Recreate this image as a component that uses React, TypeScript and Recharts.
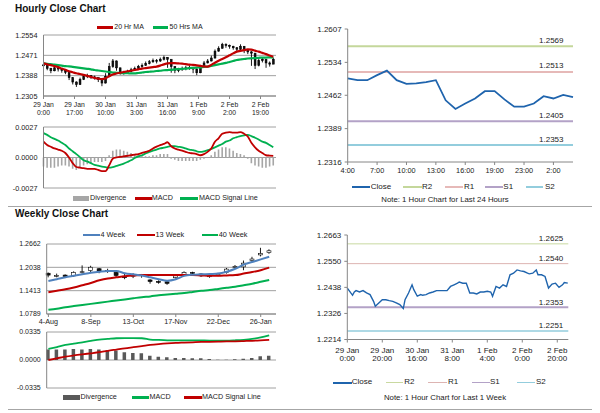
import React from "react";
import {
	ComposedChart,
	Line,
	Bar,
	XAxis,
	YAxis,
	CartesianGrid,
	ReferenceLine,
} from "recharts";

const FONT = "'Liberation Sans', Arial, sans-serif";
const AXIS = "#868686";
const GRID = "#a0a0a0";
const INK = "#222";

// ---- hourly close chart (2-hour steps, 29 Jan 0:00 onwards)
const hourlyClose = [
	1.2432, 1.2418, 1.2408, 1.242, 1.2415, 1.241, 1.2402, 1.238, 1.2362, 1.2352,
	1.2372, 1.2385, 1.2388, 1.2383, 1.238, 1.2372, 1.2358, 1.2385, 1.2425, 1.2448,
	1.242, 1.2402, 1.24, 1.2405, 1.2412, 1.2418, 1.2425, 1.243, 1.2438, 1.2445,
	1.245, 1.2448, 1.2455, 1.2462, 1.2455, 1.2425, 1.241, 1.2412, 1.2418, 1.242,
	1.2422, 1.2415, 1.24, 1.2425, 1.244, 1.2448, 1.246, 1.2488, 1.25, 1.2515,
	1.2512, 1.2508, 1.2502, 1.2496, 1.2508, 1.249, 1.2485, 1.248, 1.243, 1.245,
	1.2455, 1.244, 1.2435, 1.2455,
];
const hourlyHigh = [
	1.244, 1.243, 1.242, 1.2428, 1.2424, 1.2418, 1.2412, 1.2398, 1.2375, 1.2365,
	1.238, 1.2392, 1.2396, 1.239, 1.2388, 1.238, 1.2372, 1.2398, 1.244, 1.2456,
	1.245, 1.242, 1.2408, 1.2412, 1.242, 1.2425, 1.2432, 1.2438, 1.2446, 1.2452,
	1.2458, 1.2456, 1.2462, 1.247, 1.2464, 1.245, 1.2425, 1.242, 1.2425, 1.2428,
	1.243, 1.2424, 1.2418, 1.2432, 1.2448, 1.2456, 1.247, 1.2495, 1.2508, 1.2522,
	1.252, 1.2515, 1.251, 1.2505, 1.2516, 1.2508, 1.2494, 1.2488, 1.2475, 1.246,
	1.2462, 1.2452, 1.2446, 1.2462,
];
const hourlyLow = [
	1.2425, 1.241, 1.2398, 1.2406, 1.2405, 1.24, 1.2394, 1.237, 1.2352, 1.2342,
	1.235, 1.237, 1.2378, 1.2375, 1.2372, 1.2362, 1.2345, 1.2356, 1.2382, 1.242,
	1.2408, 1.2392, 1.2392, 1.2396, 1.2402, 1.2408, 1.2415, 1.242, 1.2428, 1.2434,
	1.244, 1.2438, 1.2444, 1.245, 1.242, 1.24, 1.2398, 1.2402, 1.2408, 1.241,
	1.2412, 1.2398, 1.239, 1.2398, 1.2422, 1.2438, 1.2446, 1.2458, 1.2486, 1.2498,
	1.2502, 1.2498, 1.2494, 1.2488, 1.2492, 1.248, 1.2476, 1.2428, 1.2415, 1.2426,
	1.2442, 1.242, 1.2425, 1.2436,
];
const hourlyMA20 = [
	1.2438, 1.2434, 1.2431, 1.2427, 1.2423, 1.2417, 1.2412, 1.2406, 1.2402, 1.2398,
	1.2395, 1.2391, 1.2387, 1.2383, 1.2379, 1.2376, 1.2374, 1.2377, 1.2386, 1.2393,
	1.2397, 1.24, 1.2403, 1.2406, 1.2408, 1.2411, 1.2414, 1.2417, 1.2419, 1.2421,
	1.2423, 1.2425, 1.2429, 1.2434, 1.2438, 1.2439, 1.2439, 1.2438, 1.2437, 1.2435,
	1.2433, 1.2432, 1.243, 1.2428, 1.2426, 1.2425, 1.2432, 1.2441, 1.2449, 1.2456,
	1.2463, 1.2471, 1.2479, 1.2486, 1.2489, 1.2492, 1.2495, 1.2494, 1.249, 1.2486,
	1.2481, 1.2476, 1.247, 1.2465,
];
const hourlyMA50 = [
	1.2438, 1.2436, 1.2435, 1.2433, 1.2431, 1.2429, 1.2427, 1.2426, 1.2424, 1.2422,
	1.242, 1.2418, 1.2416, 1.2414, 1.2411, 1.2409, 1.2407, 1.2405, 1.2403, 1.2401,
	1.24, 1.2399, 1.2398, 1.2398, 1.2397, 1.2397, 1.2399, 1.2401, 1.2403, 1.2404,
	1.2405, 1.2407, 1.2408, 1.241, 1.2411, 1.2412, 1.2414, 1.2415, 1.2416, 1.2417,
	1.2419, 1.242, 1.2421, 1.2422, 1.2424, 1.2425, 1.2428, 1.2431, 1.2434, 1.2437,
	1.244, 1.2444, 1.2448, 1.2452, 1.2454, 1.2456, 1.2458, 1.2459, 1.246, 1.2461,
	1.2462, 1.2462, 1.2463, 1.2463,
];
const hourlyMACD = [
	0.0014, 0.0011, 0.00095, 0.0008, 0.0007, 0.0006, 0.0004, 0.0, -0.0005, -0.00084,
	-0.0009, -0.00095, -0.001, -0.001, -0.001, -0.0011, -0.0012, -0.0012, -0.0007, -0.0001,
	0.0, 0.00006, 0.0001, 0.00015, 0.0002, 0.00025, 0.0003, 0.0004, 0.0005, 0.0006,
	0.0008, 0.00096, 0.0011, 0.0012, 0.00135, 0.001, 0.0008, 0.0007, 0.0006, 0.0005,
	0.0004, 0.00036, 0.0003, 0.0002, 0.0003, 0.0005, 0.0008, 0.0014, 0.0017, 0.0021,
	0.0022, 0.00225, 0.0022, 0.0022, 0.00225, 0.0021, 0.00186, 0.0013, 0.0009, 0.0006,
	0.0004, 0.0002, 0.00017, 0.00015,
];
const hourlySignal = [
	0.00216, 0.002, 0.0018, 0.00165, 0.0015, 0.0013, 0.0011, 0.0008, 0.00055, 0.0003,
	0.00003, -0.00024, -0.00035, -0.0005, -0.00065, -0.00072, -0.0008, -0.00086, -0.0009, -0.00085,
	-0.00075, -0.00065, -0.00054, -0.0004, -0.00025, -0.00005, 0.0001, 0.0002, 0.00035, 0.0005,
	0.0006, 0.0007, 0.0008, 0.00087, 0.00095, 0.001, 0.001, 0.00095, 0.0009, 0.0008,
	0.0007, 0.00065, 0.00055, 0.0005, 0.00055, 0.00065, 0.00075, 0.0009, 0.00105, 0.0012,
	0.0014, 0.0015, 0.0017, 0.0018, 0.0019, 0.00195, 0.002, 0.0019, 0.00175, 0.0016,
	0.0014, 0.0013, 0.0011, 0.0009,
];
const hourlyDivergence = [
	-0.0008, -0.0009, -0.0009, -0.0009, -0.0008, -0.0007, -0.0007, -0.0008, -0.001, -0.0011,
	-0.0009, -0.0007, -0.0006, -0.0005, -0.0004, -0.0004, -0.0004, -0.0003, 0.0002, 0.0006,
	0.0007, 0.0007, 0.0006, 0.0005, 0.0004, 0.0003, 0.0002, 0.0002, 0.0001, 0.0001,
	0.0002, 0.0002, 0.0003, 0.0003, 0.0003, -0.0001, -0.0002, -0.0003, -0.0003, -0.0003,
	-0.0003, -0.0003, -0.0003, -0.0002, -0.0001, 0.0, 0.0002, 0.0005, 0.0007, 0.0009,
	0.0009, 0.0008, 0.0006, 0.0004, 0.0003, 0.0002, -0.0001, -0.0005, -0.0007, -0.0008,
	-0.0009, -0.0009, -0.0008, -0.0007,
];
const hourlyTickHours = [0, 17, 34, 51, 68, 85, 102, 119];
const hourlyTickDays = ["29 Jan", "29 Jan", "30 Jan", "31 Jan", "31 Jan", "1 Feb", "2 Feb", "2 Feb"];
const hourlyTickTimes = ["0:00", "17:00", "10:00", "3:00", "16:00", "9:00", "2:00", "19:00"];
const hourlyPriceTicks = [1.2305, 1.2388, 1.2471, 1.2554];
const hourlyMacdTicks = [-0.0027, 0, 0.0027];

// ---- last 24 hours
const dayLabels = [
	"4:00", "5:00", "6:00", "7:00", "8:00", "9:00", "10:00", "11:00", "12:00", "13:00",
	"14:00", "15:00", "16:00", "17:00", "18:00", "19:00", "21:00", "22:00", "23:00", "0:00",
	"1:00", "2:00", "3:00", "4:00",
];
const dayClose = [
	1.2499, 1.2495, 1.2495, 1.2506, 1.2516, 1.2495, 1.2487, 1.2488, 1.2491, 1.2495,
	1.2451, 1.2432, 1.2444, 1.2455, 1.2471, 1.2471, 1.2453, 1.2437, 1.2437, 1.2444,
	1.246, 1.2455, 1.2463, 1.2458,
];
const dayTickIdx = [0, 3, 6, 9, 12, 15, 18, 21];
const dayPriceTicks = [1.2316, 1.2389, 1.2462, 1.2534, 1.2607];
const dayLevels = [
	{ name: "R2", value: 1.2569, color: "#c4d79b" },
	{ name: "R1", value: 1.2513, color: "#e6b9b8" },
	{ name: "S1", value: 1.2405, color: "#b3a2c7" },
	{ name: "S2", value: 1.2353, color: "#93cddd" },
];

// ---- weekly close chart (4-Aug .. 2-Feb)
const weeklyOpen = [
	1.188, 1.181, 1.183, 1.181, 1.19, 1.195, 1.2, 1.193, 1.19, 1.18,
	1.18, 1.184, 1.17, 1.166, 1.165, 1.176, 1.183, 1.19, 1.186, 1.18,
	1.183, 1.19, 1.204, 1.205, 1.222, 1.237, 1.243,
];
const weeklyClose = [
	1.183, 1.182, 1.179, 1.19, 1.192, 1.204, 1.194, 1.195, 1.182, 1.176,
	1.183, 1.182, 1.166, 1.164, 1.161, 1.181, 1.19, 1.188, 1.181, 1.181,
	1.186, 1.199, 1.206, 1.215, 1.226, 1.241, 1.248,
];
const weeklyHigh = [
	1.19, 1.187, 1.185, 1.193, 1.209, 1.208, 1.202, 1.2, 1.192, 1.186,
	1.188, 1.186, 1.172, 1.169, 1.167, 1.184, 1.193, 1.192, 1.188, 1.184,
	1.189, 1.202, 1.21, 1.222, 1.232, 1.256, 1.252,
];
const weeklyLow = [
	1.177, 1.177, 1.175, 1.178, 1.187, 1.19, 1.188, 1.189, 1.178, 1.172,
	1.175, 1.176, 1.16, 1.16, 1.157, 1.174, 1.181, 1.184, 1.178, 1.176,
	1.18, 1.187, 1.2, 1.196, 1.218, 1.233, 1.24,
];
const weeklyMA4 = [
	1.167, 1.172, 1.177, 1.181, 1.185, 1.189, 1.192, 1.194, 1.194, 1.188,
	1.185, 1.182, 1.177, 1.172, 1.168, 1.172, 1.181, 1.184, 1.185, 1.186,
	1.187, 1.192, 1.2, 1.211, 1.218, 1.225, 1.232,
];
const weeklyMA13 = [
	1.137, 1.141, 1.145, 1.15, 1.156, 1.162, 1.169, 1.174, 1.177, 1.18,
	1.182, 1.183, 1.183, 1.183, 1.183, 1.183, 1.183, 1.183, 1.182, 1.181,
	1.181, 1.182, 1.183, 1.187, 1.191, 1.196, 1.203,
];
const weeklyMA40 = [
	1.09, 1.093, 1.097, 1.1, 1.103, 1.106, 1.109, 1.112, 1.115, 1.118,
	1.121, 1.124, 1.126, 1.129, 1.131, 1.133, 1.135, 1.138, 1.141, 1.143,
	1.146, 1.149, 1.152, 1.156, 1.16, 1.165, 1.17,
];
const weeklyMACD = [
	0.0133, 0.0155, 0.018, 0.0195, 0.0212, 0.0228, 0.0244, 0.0252, 0.026, 0.0262,
	0.0262, 0.026, 0.0245, 0.024, 0.0236, 0.0234, 0.0236, 0.0236, 0.0234, 0.0232,
	0.0232, 0.0232, 0.0236, 0.0242, 0.0252, 0.027, 0.0294,
];
const weeklySignal = [
	0.0, 0.002, 0.004, 0.0055, 0.0068, 0.008, 0.0093, 0.011, 0.0125, 0.014,
	0.0153, 0.0166, 0.018, 0.019, 0.0198, 0.0204, 0.0208, 0.0212, 0.0216, 0.0218,
	0.022, 0.0222, 0.0224, 0.0227, 0.023, 0.0235, 0.0242,
];
const weeklyDivergence = [
	0.0125, 0.0125, 0.0125, 0.0133, 0.0125, 0.0133, 0.0125, 0.012, 0.0113, 0.0093,
	0.0085, 0.008, 0.0052, 0.004, 0.0032, 0.0024, 0.0024, 0.002, 0.002, 0.0012,
	0.0004, 0.0004, 0.0008, 0.0016, 0.0024, 0.0044, 0.0052,
];
const weeklyTickIdx = [0, 5, 10, 15, 20, 25];
const weeklyTickLabels = ["4-Aug", "8-Sep", "13-Oct", "17-Nov", "22-Dec", "26-Jan"];
const weeklyPriceTicks = [1.0789, 1.1413, 1.2038, 1.2662];
const weeklyMacdTicks = [-0.0335, 0, 0.0335];

// ---- last week, hourly
const weekHourIdx = [
	0, 2, 3, 4, 5, 7, 9, 11, 13, 15, 16, 18, 20, 22, 24, 26, 28, 30, 32, 33,
	35, 37, 38, 40, 42, 43, 45, 47, 49, 51, 53, 57, 59, 61, 63, 64, 66, 68, 70, 72,
	74, 76, 78, 80, 82, 83, 85, 87, 89, 91, 93, 95, 97, 99, 101, 103, 104, 106, 108, 109,
	111, 113, 115, 117, 119, 121, 123, 124, 126,
];
const weekHourClose = [
	1.2435, 1.2414, 1.2404, 1.2418, 1.2424, 1.2418, 1.2424, 1.2414, 1.2407, 1.2378,
	1.2357, 1.2371, 1.2385, 1.2385, 1.2381, 1.2378, 1.2371, 1.2364, 1.2347, 1.2385,
	1.2414, 1.2449, 1.2428, 1.24, 1.2407, 1.2404, 1.2407, 1.2414, 1.2418, 1.2424,
	1.2424, 1.2424, 1.2442, 1.2449, 1.2456, 1.2461, 1.2456, 1.2456, 1.2414, 1.2414,
	1.241, 1.2418, 1.2418, 1.2421, 1.2418, 1.24, 1.2442, 1.2435, 1.2449, 1.2442,
	1.2492, 1.2499, 1.2513, 1.2509, 1.2506, 1.2499, 1.2496, 1.2499, 1.2513, 1.2492,
	1.2492, 1.2485, 1.2435, 1.2452, 1.2456, 1.2438, 1.2449, 1.2459, 1.2456,
];
const weekTickIdx = [0, 20, 40, 60, 80, 100, 120];
const weekTickDays = ["29 Jan", "29 Jan", "30 Jan", "31 Jan", "1 Feb", "2 Feb", "2 Feb"];
const weekTickTimes = ["0:00", "20:00", "16:00", "8:00", "4:00", "0:00", "20:00"];
const weekPriceTicks = [1.2214, 1.2326, 1.2438, 1.255, 1.2663];
const weekLevels = [
	{ name: "R2", value: 1.2625, color: "#c9d9a0", width: 1 },
	{ name: "R1", value: 1.254, color: "#ddb4b2", width: 1 },
	{ name: "S1", value: 1.2353, color: "#b3a2c7", width: 2 },
	{ name: "S2", value: 1.2251, color: "#93cddd", width: 1.5 },
];

const hourlyData = hourlyClose.map((c, i) => ({
	h: i * 2,
	open: i ? hourlyClose[i - 1] : c,
	close: c,
	high: hourlyHigh[i],
	low: hourlyLow[i],
	range: [hourlyLow[i], hourlyHigh[i]],
	ma20: hourlyMA20[i],
	ma50: hourlyMA50[i],
	macd: hourlyMACD[i],
	signal: hourlySignal[i],
	div: hourlyDivergence[i],
}));

const dayData = dayClose.map((c, i) => ({ i, close: c }));

const weeklyData = weeklyClose.map((c, i) => ({
	w: i,
	open: weeklyOpen[i],
	close: c,
	high: weeklyHigh[i],
	low: weeklyLow[i],
	range: [weeklyLow[i], weeklyHigh[i]],
	ma4: weeklyMA4[i],
	ma13: weeklyMA13[i],
	ma40: weeklyMA40[i],
	macd: weeklyMACD[i],
	signal: weeklySignal[i],
	div: weeklyDivergence[i],
}));

const weekData = weekHourClose.map((c, i) => ({ i: weekHourIdx[i], close: c }));

const fmt4 = (v: number) => v.toFixed(4);

function Candle(props: any) {
	const { x, y, width, height, payload, hollow } = props;
	const top = Math.min(y, y + height);
	const h = Math.abs(height);
	const span = payload.high - payload.low || 1e-9;
	const py = (v: number) => top + ((payload.high - v) / span) * h;
	const b1 = py(Math.max(payload.open, payload.close));
	const b2 = py(Math.min(payload.open, payload.close));
	const cx = x + width / 2;
	const up = payload.close > payload.open;
	return (
		<g>
			<line x1={cx} x2={cx} y1={top} y2={top + h} stroke="#000" strokeWidth={0.9} />
			<rect
				x={x}
				y={b1}
				width={width}
				height={Math.max(b2 - b1, 0.9)}
				fill={hollow && up ? "#fff" : "#111"}
				stroke="#000"
				strokeWidth={0.6}
			/>
		</g>
	);
}

function TwoLineTick(props: any) {
	const { x, y, payload, ticks, days, times, fs, d1, d2 } = props;
	const k = ticks.indexOf(payload.value);
	if (k < 0) return <g />;
	return (
		<text x={x} y={y} textAnchor="middle" fontSize={fs} fill={INK} fontFamily={FONT}>
			<tspan x={x} y={y + d1}>{days[k]}</tspan>
			<tspan x={x} y={y + d2}>{times[k]}</tspan>
		</text>
	);
}

function LevelLabel(props: any, text: string, inset: number, lift: number) {
	const vb = props.viewBox || {};
	return (
		<text
			x={vb.x + vb.width - inset}
			y={vb.y - lift}
			textAnchor="end"
			fontSize={8}
			fill={INK}
			fontFamily={FONT}
		>
			{text}
		</text>
	);
}

type Item = { x1: number; x2: number; color: string; thick: number; label: string; tx: number };

function Legend({ y, fs, items }: { y: number; fs: number; items: Item[] }) {
	return (
		<>
			{items.map((it) => (
				<React.Fragment key={it.label}>
					<div
						style={{
							position: "absolute",
							left: it.x1,
							top: y - it.thick / 2,
							width: it.x2 - it.x1,
							height: it.thick,
							background: it.color,
						}}
					/>
					<div
						style={{
							position: "absolute",
							left: it.tx,
							top: y - fs / 2 - 0.5,
							fontSize: fs,
							lineHeight: `${fs}px`,
							color: INK,
							whiteSpace: "nowrap",
						}}
					>
						{it.label}
					</div>
				</React.Fragment>
			))}
		</>
	);
}

function Note({ y, text }: { y: number; text: string }) {
	return (
		<div
			style={{
				position: "absolute",
				left: 345,
				width: 200,
				top: y - 4.5,
				textAlign: "center",
				fontSize: 7.8,
				lineHeight: "8px",
				color: INK,
				whiteSpace: "nowrap",
			}}
		>
			{text}
		</div>
	);
}

const titleStyle: React.CSSProperties = {
	position: "absolute",
	left: 15,
	fontSize: 10,
	lineHeight: "10px",
	fontWeight: "bold",
	color: "#111",
	whiteSpace: "nowrap",
};

const sepStyle: React.CSSProperties = {
	position: "absolute",
	left: 8,
	width: 584,
	height: 1,
	background: "#a6a6a6",
};

const hourlyCandle = (p: any) => <Candle {...p} hollow={false} />;
const weeklyCandle = (p: any) => <Candle {...p} hollow />;

export default function App() {
	return (
		<div
			style={{
				position: "absolute",
				left: 0,
				top: 0,
				width: 600,
				height: 413,
				background: "#fff",
				fontFamily: FONT,
				overflow: "hidden",
			}}
		>
			<div style={{ ...titleStyle, top: 3.5 }}>Hourly Close Chart</div>
			<div style={{ ...titleStyle, top: 209 }}>Weekly Close Chart</div>
			<div style={{ ...sepStyle, top: 206 }} />
			<div style={{ ...sepStyle, top: 409 }} />

			{/* hourly candles with moving averages */}
			<Legend
				y={27.3}
				fs={7}
				items={[
					{ x1: 96.7, x2: 113.3, color: "#c00000", thick: 2.5, label: "20 Hr MA", tx: 114.3 },
					{ x1: 153.3, x2: 168.3, color: "#00b050", thick: 2.5, label: "50 Hrs MA", tx: 169.5 },
				]}
			/>
			<div style={{ position: "absolute", left: 0, top: 30 }}>
				<ComposedChart width={280} height={91} data={hourlyData} margin={{ top: 5, right: 4, left: 3.5, bottom: 0 }}>
					<CartesianGrid vertical={false} stroke={GRID} />
					<XAxis
						type="number"
						dataKey="h"
						domain={[0, 127.5]}
						ticks={hourlyTickHours}
						interval={0}
						height={25}
						tickSize={3}
						tickMargin={0}
						stroke={AXIS}
						tick={(p: any) => (
							<TwoLineTick {...p} ticks={hourlyTickHours} days={hourlyTickDays} times={hourlyTickTimes} fs={6.8} d1={7.5} d2={16} />
						)}
					/>
					<YAxis
						width={40}
						domain={[1.2305, 1.2554]}
						ticks={hourlyPriceTicks}
						interval={0}
						allowDataOverflow
						tickLine={false}
						tickSize={4}
						tickMargin={2}
						stroke={AXIS}
						tickFormatter={fmt4}
						tick={{ fontSize: 7.3, fill: INK, fontFamily: FONT }}
					/>
					<Bar dataKey="range" barSize={1.8} shape={hourlyCandle} isAnimationActive={false} />
					<Line type="monotone" dataKey="ma50" stroke="#00b050" strokeWidth={2.2} dot={false} activeDot={false} isAnimationActive={false} />
					<Line type="monotone" dataKey="ma20" stroke="#c00000" strokeWidth={2.2} dot={false} activeDot={false} isAnimationActive={false} />
				</ComposedChart>
			</div>

			{/* hourly MACD */}
			<div style={{ position: "absolute", left: 0, top: 122 }}>
				<ComposedChart width={280} height={72} data={hourlyData} margin={{ top: 5, right: 4, left: 3.5, bottom: 6 }}>
					<CartesianGrid vertical={false} stroke={GRID} />
					<XAxis type="number" dataKey="h" domain={[0, 127.5]} hide />
					<YAxis
						width={40}
						domain={[-0.0027, 0.0027]}
						ticks={hourlyMacdTicks}
						interval={0}
						allowDataOverflow
						tickLine={false}
						tickSize={4}
						tickMargin={2}
						stroke={AXIS}
						tickFormatter={fmt4}
						tick={{ fontSize: 7.3, fill: INK, fontFamily: FONT }}
					/>
					<Bar dataKey="div" fill="#a6a6a6" barSize={1.6} isAnimationActive={false} />
					<Line type="monotone" dataKey="signal" stroke="#00b050" strokeWidth={1.8} dot={false} activeDot={false} isAnimationActive={false} />
					<Line type="monotone" dataKey="macd" stroke="#c00000" strokeWidth={1.8} dot={false} activeDot={false} isAnimationActive={false} />
				</ComposedChart>
			</div>
			<Legend
				y={198.3}
				fs={7.2}
				items={[
					{ x1: 72.7, x2: 89.3, color: "#a6a6a6", thick: 5, label: "Divergence", tx: 90 },
					{ x1: 135, x2: 151.7, color: "#c00000", thick: 2.5, label: "MACD", tx: 151.7 },
					{ x1: 180, x2: 198, color: "#00b050", thick: 2.5, label: "MACD Signal Line", tx: 199 },
				]}
			/>

			{/* last 24 hours */}
			<div style={{ position: "absolute", left: 300, top: 24 }}>
				<ComposedChart width={280} height={158} data={dayData} margin={{ top: 5, right: 7, left: 7.7, bottom: 0 }}>
					<XAxis
						type="number"
						dataKey="i"
						domain={[0, 23]}
						ticks={dayTickIdx}
						interval={0}
						height={20}
						tickSize={3}
						tickMargin={3}
						stroke={AXIS}
						tickFormatter={(v: number) => dayLabels[v]}
						tick={{ fontSize: 7.3, fill: INK, fontFamily: FONT }}
					/>
					<YAxis
						width={40}
						domain={[1.2316, 1.2607]}
						ticks={dayPriceTicks}
						interval={0}
						allowDataOverflow
						tickSize={3}
						tickMargin={3}
						stroke={AXIS}
						tickFormatter={fmt4}
						tick={{ fontSize: 8, fill: INK, fontFamily: FONT }}
					/>
					{dayLevels.map((lv) => (
						<ReferenceLine
							key={lv.name}
							y={lv.value}
							stroke={lv.color}
							strokeWidth={2}
							label={(p: any) => LevelLabel(p, fmt4(lv.value), 9.5, 3.5)}
						/>
					))}
					<Line type="linear" dataKey="close" stroke="#1f64ad" strokeWidth={1.8} dot={false} activeDot={false} isAnimationActive={false} />
				</ComposedChart>
			</div>
			<Legend
				y={187}
				fs={8}
				items={[
					{ x1: 351.7, x2: 370, color: "#1f64ad", thick: 2, label: "Close", tx: 370.7 },
					{ x1: 403.3, x2: 421.7, color: "#c4d79b", thick: 2, label: "R2", tx: 422 },
					{ x1: 445, x2: 463.3, color: "#e6b9b8", thick: 2, label: "R1", tx: 464 },
					{ x1: 485, x2: 503.3, color: "#b3a2c7", thick: 2, label: "S1", tx: 503.3 },
					{ x1: 526, x2: 543, color: "#93cddd", thick: 2, label: "S2", tx: 545 },
				]}
			/>
			<Note y={200} text="Note: 1 Hour Chart for Last 24 Hours" />

			{/* weekly candles with moving averages */}
			<Legend
				y={235}
				fs={7.3}
				items={[
					{ x1: 83.3, x2: 100, color: "#4f81bd", thick: 2.5, label: "4 Week", tx: 100.5 },
					{ x1: 136.7, x2: 155, color: "#c00000", thick: 2.5, label: "13 Week", tx: 155.5 },
					{ x1: 201.7, x2: 218.3, color: "#00b050", thick: 2.5, label: "40 Week", tx: 218.8 },
				]}
			/>
			<div style={{ position: "absolute", left: 0, top: 239 }}>
				<ComposedChart width={280} height={91} data={weeklyData} margin={{ top: 5, right: 4, left: 6.7, bottom: 0 }}>
					<CartesianGrid vertical={false} stroke={GRID} />
					<XAxis
						type="number"
						dataKey="w"
						domain={[-0.2, 26.8]}
						ticks={weeklyTickIdx}
						interval={0}
						height={16}
						tickSize={3}
						tickMargin={2}
						stroke={AXIS}
						tickFormatter={(v: number) => weeklyTickLabels[weeklyTickIdx.indexOf(v)]}
						tick={{ fontSize: 7.2, fill: INK, fontFamily: FONT }}
					/>
					<YAxis
						width={40}
						domain={[1.0789, 1.2662]}
						ticks={weeklyPriceTicks}
						interval={0}
						allowDataOverflow
						tickLine={false}
						tickSize={4}
						tickMargin={2}
						stroke={AXIS}
						tickFormatter={fmt4}
						tick={{ fontSize: 7, fill: INK, fontFamily: FONT }}
					/>
					<Line type="monotone" dataKey="ma40" stroke="#00b050" strokeWidth={2} dot={false} activeDot={false} isAnimationActive={false} />
					<Line type="monotone" dataKey="ma13" stroke="#c00000" strokeWidth={2} dot={false} activeDot={false} isAnimationActive={false} />
					<Line type="monotone" dataKey="ma4" stroke="#4f81bd" strokeWidth={2} dot={false} activeDot={false} isAnimationActive={false} />
					<Bar dataKey="range" barSize={4} shape={weeklyCandle} isAnimationActive={false} />
				</ComposedChart>
			</div>

			{/* weekly MACD */}
			<div style={{ position: "absolute", left: 0, top: 327 }}>
				<ComposedChart width={280} height={67} data={weeklyData} margin={{ top: 5, right: 4, left: 6.7, bottom: 6 }}>
					<CartesianGrid vertical={false} stroke={GRID} />
					<XAxis type="number" dataKey="w" domain={[-0.2, 26.8]} hide />
					<YAxis
						width={40}
						domain={[-0.0335, 0.0335]}
						ticks={weeklyMacdTicks}
						interval={0}
						allowDataOverflow
						tickLine={false}
						tickSize={4}
						tickMargin={2}
						stroke={AXIS}
						tickFormatter={fmt4}
						tick={{ fontSize: 7, fill: INK, fontFamily: FONT }}
					/>
					<Bar dataKey="div" fill="#595959" barSize={3.5} isAnimationActive={false} />
					<Line type="monotone" dataKey="macd" stroke="#00b050" strokeWidth={1.8} dot={false} activeDot={false} isAnimationActive={false} />
					<Line type="monotone" dataKey="signal" stroke="#c00000" strokeWidth={1.8} dot={false} activeDot={false} isAnimationActive={false} />
				</ComposedChart>
			</div>
			<Legend
				y={397.3}
				fs={7.2}
				items={[
					{ x1: 63.3, x2: 80, color: "#595959", thick: 5, label: "Divergence", tx: 80.5 },
					{ x1: 131.7, x2: 149.3, color: "#00b050", thick: 2.5, label: "MACD", tx: 149.5 },
					{ x1: 184.3, x2: 201.7, color: "#c00000", thick: 2.5, label: "MACD Signal Line", tx: 202 },
				]}
			/>

			{/* last week, hourly */}
			<div style={{ position: "absolute", left: 300, top: 230 }}>
				<ComposedChart width={280} height={134.5} data={weekData} margin={{ top: 5, right: 11.7, left: 7.3, bottom: 0 }}>
					<XAxis
						type="number"
						dataKey="i"
						domain={[0, 126.3]}
						ticks={weekTickIdx}
						interval={0}
						height={25}
						tickSize={3}
						tickMargin={0}
						stroke={AXIS}
						tick={(p: any) => (
							<TwoLineTick {...p} ticks={weekTickIdx} days={weekTickDays} times={weekTickTimes} fs={8} d1={10} d2={18.2} />
						)}
					/>
					<YAxis
						width={40}
						domain={[1.2214, 1.2663]}
						ticks={weekPriceTicks}
						interval={0}
						allowDataOverflow
						tickSize={3}
						tickMargin={3}
						stroke={AXIS}
						tickFormatter={fmt4}
						tick={{ fontSize: 8, fill: INK, fontFamily: FONT }}
					/>
					{weekLevels.map((lv) => (
						<ReferenceLine
							key={lv.name}
							y={lv.value}
							stroke={lv.color}
							strokeWidth={lv.width}
							label={(p: any) => LevelLabel(p, fmt4(lv.value), 5, 2.5)}
						/>
					))}
					<Line type="linear" dataKey="close" stroke="#1f64ad" strokeWidth={1.4} dot={false} activeDot={false} isAnimationActive={false} />
				</ComposedChart>
			</div>
			<Legend
				y={382.7}
				fs={8}
				items={[
					{ x1: 332.7, x2: 351.7, color: "#1f64ad", thick: 2, label: "Close", tx: 351.7 },
					{ x1: 386, x2: 403.3, color: "#c9d9a0", thick: 1.5, label: "R2", tx: 404.3 },
					{ x1: 428.3, x2: 446.7, color: "#ddb4b2", thick: 1.5, label: "R1", tx: 448 },
					{ x1: 471.7, x2: 490, color: "#b3a2c7", thick: 1.5, label: "S1", tx: 490 },
					{ x1: 516.7, x2: 535, color: "#93cddd", thick: 1.5, label: "S2", tx: 536 },
				]}
			/>
			<Note y={398} text="Note: 1 Hour Chart for Last 1 Week" />
		</div>
	);
}
